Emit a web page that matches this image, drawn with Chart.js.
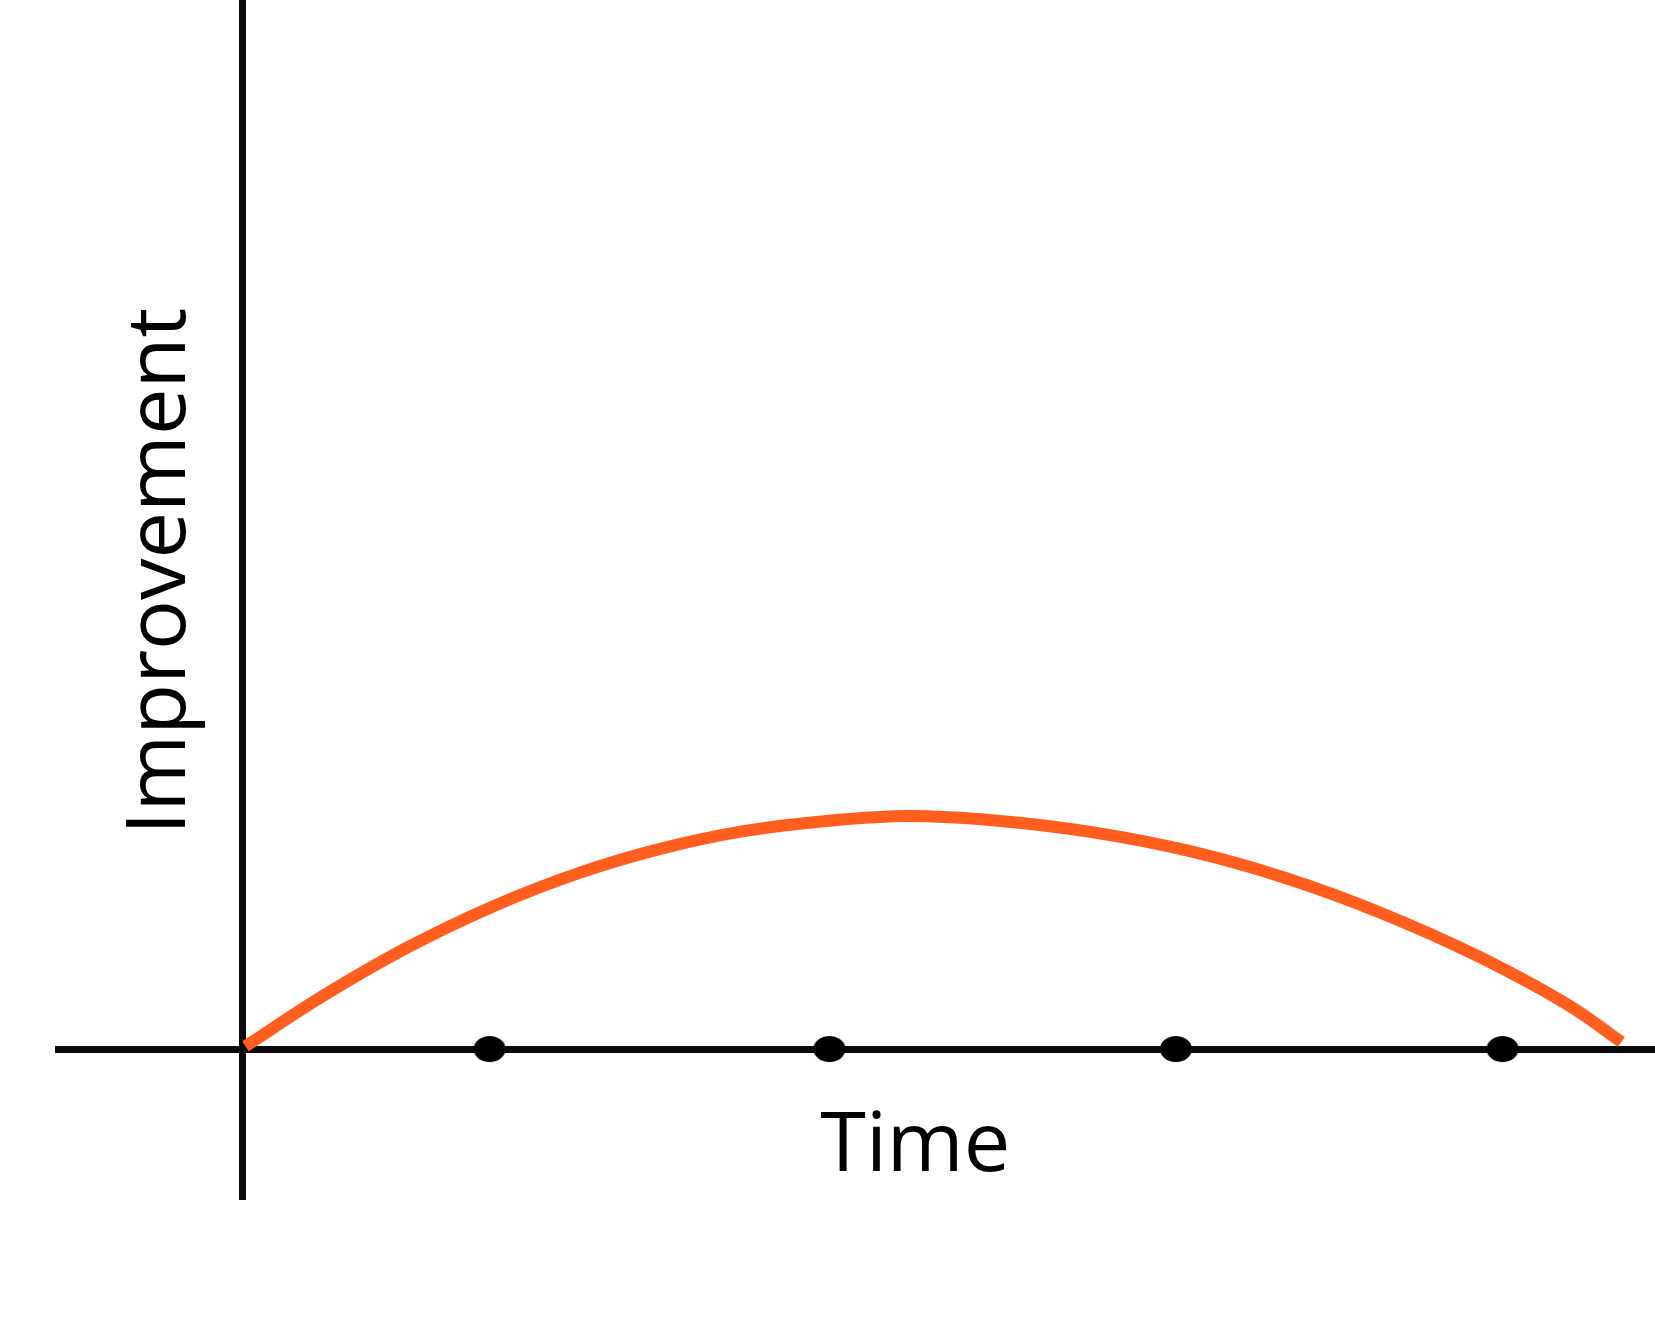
<!DOCTYPE html>
<html>
<head>
<meta charset="utf-8">
<title>Improvement over time</title>
<script src="https://cdn.jsdelivr.net/npm/chart.js@4.4.1/dist/chart.umd.min.js"></script>
<style>
    html, body {
        margin: 0;
        padding: 0;
        background: #ffffff;
    }
    #chart-wrap {
        width: 1655px;
        height: 1322px;
    }
</style>
</head>
<body>
<div id="chart-wrap">
    <canvas id="improvement-chart" width="1655" height="1322"></canvas>
</div>
<script>
// values (time units / improvement units)
const curveTimes = [0.01, 0.25, 0.5, 0.76, 1.02, 1.27, 1.52, 1.78, 2.02, 2.29, 2.58, 2.87, 3.16, 3.45, 3.75, 4.04, 4.18];
const curveImprovement = [0.012, 0.232, 0.435, 0.612, 0.755, 0.86, 0.935, 0.98, 1.0, 0.98, 0.93, 0.85, 0.735, 0.585, 0.395, 0.17, 0.03];
const markerTimes = [0.75, 1.78, 2.83, 3.82];
const markerImprovement = [0, 0, 0, 0];

const timeRange = [-0.567, 4.282];
const improvementRange = [-0.648, 4.502];
const axisLabels = { x: 'Time', y: 'Improvement' };

const LABEL_FONT = '83px "Open Sans", "Noto Sans", sans-serif';

// the hand drawn dots are a bit wider than tall
function makeDot() {
    const c = document.createElement('canvas');
    c.width = 34;
    c.height = 28;
    const g = c.getContext('2d');
    g.fillStyle = '#000000';
    g.beginPath();
    g.ellipse(17, 14, 16, 13, 0, 0, Math.PI * 2);
    g.fill();
    return c;
}

// only keep the zero line of each scale, that is the axis
function onlyZero(scale) {
    scale.ticks = [{ value: 0 }];
}

const labelPlugin = {
    id: 'sketchLabels',
    afterDraw(chart) {
        const ctx = chart.ctx;
        const x = chart.scales.x;
        const y = chart.scales.y;
        ctx.save();
        ctx.fillStyle = '#000000';
        ctx.font = LABEL_FONT;
        ctx.textAlign = 'center';
        ctx.textBaseline = 'alphabetic';

        ctx.fillText(axisLabels.x, x.getPixelForValue(2.04), y.getPixelForValue(0) + 122);

        ctx.translate(x.getPixelForValue(0) - 57, y.getPixelForValue(2.05));
        ctx.rotate(-Math.PI / 2);
        ctx.fillText(axisLabels.y, 0, 0);
        ctx.restore();
    }
};

const points = curveTimes.map((t, i) => ({ x: t, y: curveImprovement[i] }));
const markers = markerTimes.map((t, i) => ({ x: t, y: markerImprovement[i] }));

const axisGrid = {
    color: '#0a0a0a',
    lineWidth: 7,
    drawTicks: false
};

new Chart(document.getElementById('improvement-chart'), {
    type: 'scatter',
    data: {
        datasets: [
            {
                label: 'Improvement',
                data: points,
                showLine: true,
                borderColor: '#ff5e1f',
                borderWidth: 12,
                borderCapStyle: 'butt',
                cubicInterpolationMode: 'monotone',
                pointRadius: 0,
                fill: false
            },
            {
                label: 'Markers',
                data: markers,
                showLine: false,
                pointStyle: makeDot(),
                pointRadius: 16
            }
        ]
    },
    options: {
        responsive: false,
        animation: false,
        devicePixelRatio: 1,
        layout: {
            autoPadding: false,
            padding: { left: 55, right: 0, top: 0, bottom: 122 }
        },
        plugins: {
            legend: { display: false },
            tooltip: { enabled: false }
        },
        scales: {
            x: {
                type: 'linear',
                min: timeRange[0],
                max: timeRange[1],
                afterBuildTicks: onlyZero,
                grid: axisGrid,
                border: { display: false },
                ticks: { display: false }
            },
            y: {
                type: 'linear',
                min: improvementRange[0],
                max: improvementRange[1],
                afterBuildTicks: onlyZero,
                grid: axisGrid,
                border: { display: false },
                ticks: { display: false }
            }
        }
    },
    plugins: [labelPlugin]
});
</script>
</body>
</html>
